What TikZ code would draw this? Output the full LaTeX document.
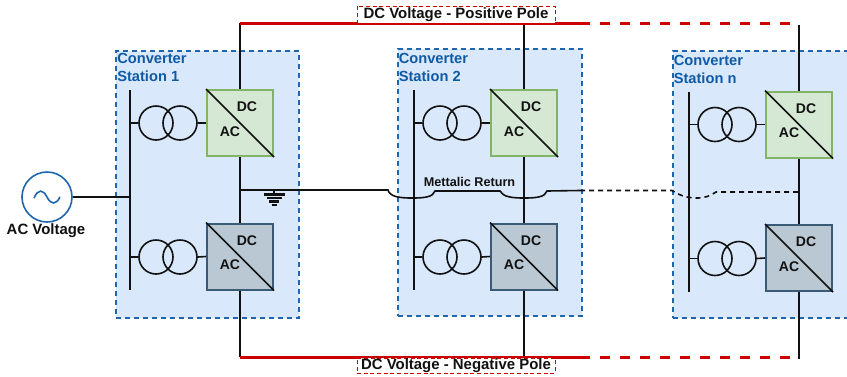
\documentclass[tikz,border=0pt]{standalone}
\usepackage{fontspec}
\setmainfont{Liberation Sans}
\definecolor{stfill}{HTML}{DAE8FC}
\definecolor{stdraw}{HTML}{1F66AE}
\definecolor{sttext}{HTML}{0F5AA5}
\definecolor{grfill}{HTML}{D5E8D4}
\definecolor{grdraw}{HTML}{82B366}
\definecolor{gyfill}{HTML}{BAC8D3}
\definecolor{gydraw}{HTML}{3A5A75}
\definecolor{pole}{HTML}{CC0000}
\definecolor{ink}{HTML}{111111}
\tikzset{
  stationbox/.style={draw=stdraw,fill=stfill,line width=1.5pt,dash pattern=on 3.75pt off 3pt,inner sep=0pt,anchor=north west},
  stationlabel/.style={text=sttext,font=\fontsize{11}{13.5}\selectfont\bfseries,align=left,anchor=north west,inner sep=0pt},
  convgreen/.style={draw=grdraw,fill=grfill,line width=1.5pt,minimum size=49.5pt,inner sep=0pt},
  convgray/.style={draw=gydraw,fill=gyfill,line width=1.5pt,minimum size=49.5pt,inner sep=0pt},
  convtext/.style={font=\fontsize{10.5}{12}\selectfont\bfseries,text=ink,inner sep=0pt},
  coil/.style={circle,draw=ink,line width=1.2pt,minimum size=25.5pt,inner sep=0pt},
  wire/.style={draw=ink,line width=1.2pt},
  dashwire/.style={draw=ink,line width=1.2pt,dash pattern=on 3.75pt off 3pt},
  redwire/.style={draw=pole,line width=2.25pt},
  reddash/.style={draw=pole,line width=2.25pt,dash pattern=on 7.5pt off 7.5pt},
  polelabel/.style={draw=pole,fill=white,line width=0.4pt,densely dashed,minimum width=148.5pt,inner sep=0pt,font=\fontsize{11.2}{12}\selectfont\bfseries,text=ink},
}
% #1 prefix, #2 shift x, #3 shift y
\newcommand{\cstation}[3]{%
  \begin{scope}[shift={(#2,#3)}]
    \coordinate (#1bt) at (130,90);
    \coordinate (#1bb) at (130,290);
    \draw[wire,line width=1.4pt] (#1bt) -- (#1bb);
    \node[coil] (#1a1) at (156,123) {};
    \node[coil] (#1a2) at (180,123) {};
    \node[coil] (#1b1) at (156,257) {};
    \node[coil] (#1b2) at (180,257) {};
    \node[convgreen] (#1p) at (240,123) {};
    \node[convgray] (#1n) at (240,256.5) {};
    \draw[wire] (#1p.north west) -- (#1p.south east);
    \draw[wire] (#1n.north west) -- (#1n.south east);
    \node[convtext] (#1pdc) at (247,107) {DC};
    \node[convtext] (#1pac) at (230,131.5) {AC};
    \node[convtext] (#1ndc) at (247,240.5) {DC};
    \node[convtext] (#1nac) at (230,265) {AC};
    \draw[wire] (#1a1.west) -- (#1a1.west -| #1bt);
    \draw[wire] (#1b1.west) -- (#1b1.west -| #1bt);
    \draw[wire] (#1a2.east) -- (#1p.west);
    \draw[wire] (#1b2.east) -- (#1n.west);
    \draw[wire] (#1p.south) -- (#1n.north);
    \coordinate (#1top) at (240,23);
    \coordinate (#1bot) at (240,357);
    \draw[wire] (#1p.north) -- (#1top);
    \draw[wire] (#1n.south) -- (#1bot);
  \end{scope}%
}
\begin{document}
\begin{tikzpicture}[x=0.75pt,y=-0.75pt]
\useasboundingbox (0,0) rectangle (847,376);
\fill[white] (0,0) rectangle (847,376);
% station frames
\node[stationbox,minimum width=137.25pt,minimum height=200.25pt] (box1) at (114.5,49.5) {};
\node[stationbox,minimum width=138pt,minimum height=200.25pt] (box2) at (396.5,47.5) {};
\node[stationbox,minimum width=165pt,minimum height=200.25pt] (boxn) at (671.5,49.5) {};
\node[stationlabel] (lab1) at (117,53) {Converter\\Station 1};
\node[stationlabel] (lab2) at (398.5,53) {Converter\\Station 2};
\node[stationlabel] (labn) at (673.5,55) {Converter\\Station n};
% stations
\cstation{a}{0}{0}
\cstation{b}{284}{0}
\cstation{c}{559}{1.5}
% poles
\coordinate (ptend) at (590,23);
\coordinate (ptd) at (600,23);
\coordinate (ptf) at (791,23);
\coordinate (pbend) at (590,357);
\coordinate (pbd) at (600,357);
\coordinate (pbf) at (791,357);
\draw[redwire] (atop) -- (ptend);
\draw[redwire] (abot) -- (pbend);
\draw[reddash] (ptd) -- (ptf);
\draw[reddash] (pbd) -- (pbf);
\node[polelabel,minimum height=12.75pt] (plab) at (456,14.5) {DC Voltage - Positive Pole};
\node[polelabel,minimum height=11.25pt] (nlab) at (456,365.5) {DC Voltage - Negative Pole};
% AC source
\node[circle,draw=stdraw,line width=1.2pt,minimum size=37.5pt,inner sep=0pt] (src) at (47,197) {};
\draw[draw=stdraw,line width=1.2pt] (34,198) .. controls (38,189) and (43,189) .. (47,197) .. controls (51,205) and (56,205) .. (60,197);
\node[font=\fontsize{11.2}{12}\selectfont\bfseries,text=ink,inner sep=0pt] (aclab) at (46,231) {AC Voltage};
\coordinate (srcbus) at (130,197);
\draw[wire] (src.east) -- (srcbus);
% metallic return
\coordinate (r0) at (240,190);
\coordinate (r1) at (388,190);
\coordinate (r2) at (435,191);
\coordinate (r3) at (500,191);
\coordinate (r4) at (547,191);
\coordinate (r5) at (580,190.5);
\coordinate (r6) at (672,190.5);
\coordinate (r7) at (716,192);
\coordinate (r8) at (799,192);
\draw[wire] (r0) -- (r1) .. controls (390,197) and (400,198) .. (412,198) .. controls (425,198) and (433,197) .. (r2) -- (r3) .. controls (503,197) and (512,198) .. (524,198) .. controls (537,198) and (545,197) .. (r4) -- (r5);
\draw[dashwire] (r5) -- (r6) .. controls (682,197) and (690,198) .. (697,198) .. controls (705,198) and (710,196) .. (r7) -- (r8);
\node[font=\fontsize{9.5}{11}\selectfont\bfseries,text=ink,inner sep=0pt] (mret) at (469.5,182) {Mettalic Return};
% ground
\coordinate (g0) at (274,190);
\coordinate (g1) at (274,194);
\draw[wire] (g0) -- (g1);
\draw[wire,line width=1.6pt] (263.5,194.5) -- (284.5,194.5);
\draw[wire,line width=1.6pt] (266.5,198) -- (281.5,198);
\draw[wire,line width=1.6pt] (269,201.5) -- (279,201.5);
\draw[wire,line width=1.6pt] (271.5,205) -- (276.5,205);
\end{tikzpicture}
\end{document}
